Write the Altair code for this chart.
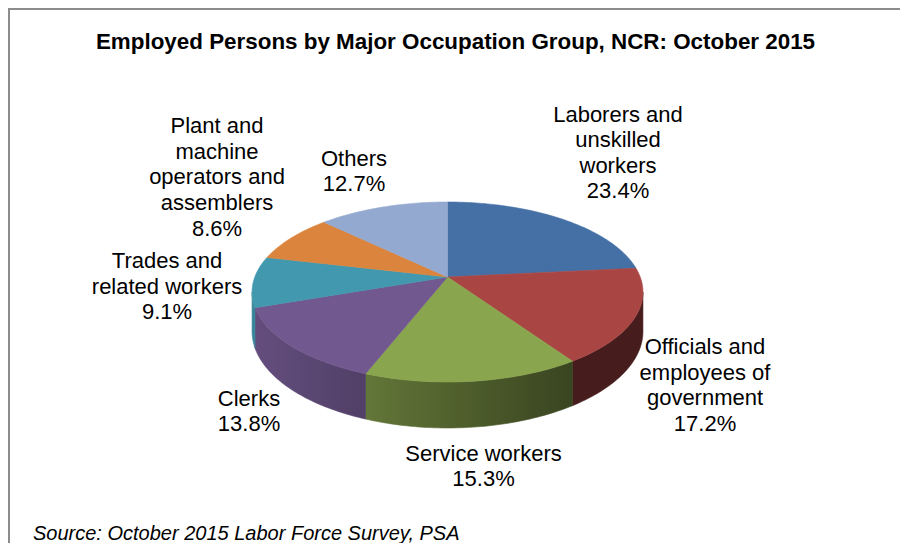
import math
import altair as alt
import pandas as pd

# ---------------- data ----------------
categories = [
    "Laborers and unskilled workers",
    "Officials and employees of government",
    "Service workers",
    "Clerks",
    "Trades and related workers",
    "Plant and machine operators and assemblers",
    "Others",
]
shares = [23.4, 17.2, 15.3, 13.8, 9.1, 8.6, 12.7]
label_names = [
    ["Laborers and", "unskilled", "workers"],
    ["Officials and", "employees of", "government"],
    ["Service workers"],
    ["Clerks"],
    ["Trades and", "related workers"],
    ["Plant and", "machine", "operators and", "assemblers"],
    ["Others"],
]
slice_colors = ["#4470A6", "#A94644", "#89A54E", "#71588F", "#4198AF", "#DB843D", "#93A9CF"]

title_text = "Employed Persons by Major Occupation Group, NCR: October 2015"
source_text = "Source: October 2015 Labor Force Survey, PSA"

# ---------------- layout (pixels) ----------------
W, H = 900, 543
label_x = [618, 705, 483.5, 249, 167, 217, 354]
label_y = [121.7, 354, 460.5, 405.5, 268.3, 133.3, 165.5]

CX, CY = 447.5, 292.0      # centre of top ellipse
KX, KY = 192.7, 90.0       # radii scale
PERSP = -0.167             # perspective factor
DEPTH = 38.3               # side wall depth
FONT = "Liberation Sans, Arial, Helvetica, sans-serif"


def project(t_deg, drop=0.0):
    t = math.radians(t_deg)
    u, v = math.sin(t), -math.cos(t)
    w = 1 + PERSP * v
    return CX + KX * u / w, CY + KY * (v + PERSP) / w + drop * DEPTH / w


def shade(hex_color, f):
    h = hex_color.lstrip("#")
    r, g, b = (int(h[i:i + 2], 16) for i in (0, 2, 4))
    f = max(0.0, min(1.0, f))
    return "#%02x%02x%02x" % (int(r * f), int(g * f), int(b * f))


def light(xn):
    return max(0.42, 0.60 - 0.29 * xn)


total = sum(shares)
bounds = []
acc = 0.0
for s in shares:
    bounds.append((acc / total * 360.0, (acc + s) / total * 360.0))
    acc += s

X = lambda f: alt.X(f, type="quantitative", scale=alt.Scale(domain=[0, W], nice=False, zero=False), axis=None)
Y = lambda f: alt.Y(f, type="quantitative", scale=alt.Scale(domain=[0, H], range=[0, H], nice=False, zero=False), axis=None)

# side walls (front-facing part only), one polygon per slice with a horizontal gradient
t_lo = math.degrees(math.acos(PERSP))
t_hi = 360.0 - t_lo
half_w = KX / math.sqrt(1 - PERSP ** 2)
side_layers = []
for i, (t0, t1) in enumerate(bounds):
    a0, a1 = max(t0, t_lo), min(t1, t_hi)
    if a1 <= a0:
        continue
    n = max(2, int(math.ceil((a1 - a0) / 1.0)))
    angs = [a0 + (a1 - a0) * j / n for j in range(n + 1)]
    pts = [project(t) for t in angs] + [project(t, 1) for t in reversed(angs)]
    df = pd.DataFrame({"category": categories[i], "ord": range(len(pts)),
                       "px": [p[0] for p in pts], "py": [p[1] for p in pts]})
    xs = [p[0] for p in pts]
    xmin, xmax = min(xs), max(xs)
    stops = []
    for q in range(6):
        frac = q / 5
        xq = xmin + (xmax - xmin) * frac
        stops.append(alt.GradientStop(offset=frac,
                                      color=shade(slice_colors[i], light((xq - CX) / half_w))))
    grad = alt.LinearGradient(gradient="linear", stops=stops, x1=0, x2=1, y1=0, y2=0)
    side_layers.append(
        alt.Chart(df).mark_line(interpolate="linear-closed", filled=True, fill=grad,
                                stroke=grad, strokeWidth=0.6)
        .encode(x=X("px"), y=Y("py"), order="ord:Q")
    )

# top faces
rows = []
apex = (CX, CY + KY * PERSP)
for i, (t0, t1) in enumerate(bounds):
    n = max(2, int(math.ceil((t1 - t0) / 1.0)))
    pts = [apex] + [project(t0 + (t1 - t0) * j / n) for j in range(n + 1)]
    for k, (x, y) in enumerate(pts):
        rows.append({"category": categories[i], "ord": k, "px": x, "py": y, "col": slice_colors[i]})
top_df = pd.DataFrame(rows)

tops = alt.Chart(top_df).mark_line(interpolate="linear-closed", filled=True, strokeWidth=0.6).encode(
    x=X("px"), y=Y("py"),
    detail="category:N",
    order="ord:Q",
    fill=alt.Fill("col:N", scale=None),
    stroke=alt.Stroke("col:N", scale=None),
)

labels_df = pd.DataFrame({
    "category": categories,
    "text": ["\n".join(nm + [f"{v}%"]) for nm, v in zip(label_names, shares)],
    "lx": label_x,
    "ly": label_y,
})

labels = alt.Chart(labels_df).mark_text(
    font=FONT, fontSize=22, lineHeight=25.6, lineBreak="\n",
    align="center", baseline="alphabetic", color="#000000",
).encode(x=X("lx"), y=Y("ly"), text="text:N")

title = alt.Chart(alt.Data(values=[{"t": title_text}])).mark_text(
    font=FONT, fontSize=22.4, fontWeight="bold", align="center", baseline="alphabetic", color="#000000",
).encode(x=alt.value(455.5), y=alt.value(49), text="t:N")

source = alt.Chart(alt.Data(values=[{"t": source_text}])).mark_text(
    font=FONT, fontSize=20, fontStyle="italic", align="left", baseline="alphabetic", color="#000000",
).encode(x=alt.value(33), y=alt.value(540), text="t:N")

border_left = alt.Chart(alt.Data(values=[{"a": 1}])).mark_rule(color="#8c8c8c", strokeWidth=2).encode(
    x=alt.value(9), y=alt.value(8), y2=alt.value(H + 5))
border_top = alt.Chart(alt.Data(values=[{"a": 1}])).mark_rule(color="#8c8c8c", strokeWidth=2).encode(
    x=alt.value(8), x2=alt.value(W + 5), y=alt.value(9))

chart = alt.layer(border_left, border_top, *side_layers, tops, labels, title, source).properties(
    width=W, height=H, padding=0, autosize=alt.AutoSizeParams(type="none"), background="#ffffff",
).configure_view(stroke=None)

chart.save("out.html", embed_options={"renderer": "svg", "actions": False})
